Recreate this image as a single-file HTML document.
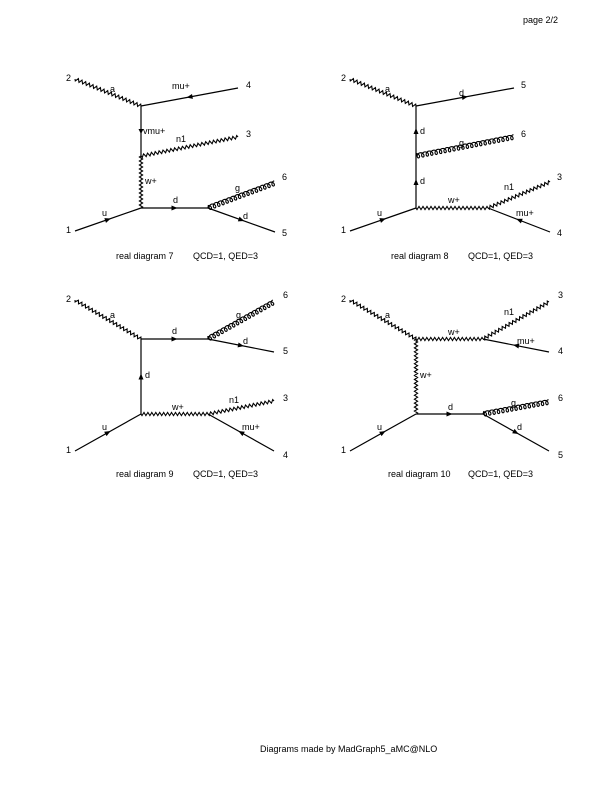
<!DOCTYPE html>
<html><head><meta charset="utf-8"><style>
html,body{margin:0;padding:0;background:#fff;}
svg{display:block;}
text{font-family:"Liberation Sans",sans-serif;font-size:9px;fill:#000;}
</style></head><body>
<svg id="s" width="612" height="792" viewBox="0 0 612 792" xmlns="http://www.w3.org/2000/svg">
<text x="523" y="23">page 2/2</text>
<text x="260" y="752">Diagrams made by MadGraph5_aMC@NLO</text>
<g id="g"></g>
</svg>
<script>
var G=document.getElementById('g'),NS='http://www.w3.org/2000/svg';
function el(n,a){var e=document.createElementNS(NS,n);for(var k in a)e.setAttribute(k,a[k]);G.appendChild(e);return e;}
function ferm(x1,y1,x2,y2){el('line',{x1:x1,y1:y1,x2:x2,y2:y2,stroke:'#000','stroke-width':1.2});
 var dx=x2-x1,dy=y2-y1,L=Math.hypot(dx,dy),ux=dx/L,uy=dy/L,mx=(x1+x2)/2,my=(y1+y2)/2;
 var tx=mx+ux*3,ty=my+uy*3,bx=mx-ux*3,by=my-uy*3;
 el('polygon',{points:tx+','+ty+' '+(bx-uy*2.5)+','+(by+ux*2.5)+' '+(bx+uy*2.5)+','+(by-ux*2.5),fill:'#000'});}
function phot(x1,y1,x2,y2){var dx=x2-x1,dy=y2-y1,L=Math.hypot(dx,dy),ux=dx/L,uy=dy/L,n=Math.round(L/4),d='M'+x1+','+y1;
 for(var i=1;i<=n*4;i++){var t=i/(n*4),a=1.6*Math.sin(t*n*2*Math.PI);d+=' L'+(x1+dx*t-uy*a).toFixed(1)+','+(y1+dy*t+ux*a).toFixed(1);}
 el('path',{d:d,fill:'none',stroke:'#000','stroke-width':1.1});}
function glu(x1,y1,x2,y2){var dx=x2-x1,dy=y2-y1,L=Math.hypot(dx,dy),ux=dx/L,uy=dy/L,n=Math.round(L/4.5),d='M'+x1+','+y1;
 for(var i=1;i<=n*16;i++){var t=i/(n*16),ph=t*n*2*Math.PI,s=L*t-1.8*Math.sin(ph)+0,a=2.6*(1-Math.cos(ph))/2*1.4-1.8;
 a=-2.4*Math.cos(ph)+0;var along=L*t+2.2*Math.sin(ph);d+=' L'+(x1+ux*along-uy*a).toFixed(1)+','+(y1+uy*along+ux*a).toFixed(1);}
 el('path',{d:d,fill:'none',stroke:'#000','stroke-width':1.1});}
function T(x,y,s){var e=el('text',{x:x,y:y});e.textContent=s;}
// Diagram 7
phot(75,79,141,106);ferm(238,88,141,106);el('line',{x1:141,y1:106,x2:141,y2:156,stroke:'#000','stroke-width':1.2});
el('polygon',{points:'141,134 138.5,129 143.5,129',fill:'#000'});
phot(141,156,238,137);phot(141,156,141,208);ferm(75,231,141,208);ferm(141,208,208,208);glu(208,208,275,183);ferm(208,208,275,232);
T(66,81,'2');T(246,88,'4');T(246,137,'3');T(282,180,'6');T(282,236,'5');T(66,233,'1');
T(110,92,'a');T(172,89,'mu+');T(143,134,'vmu+');T(176,142,'n1');T(145,184,'w+');T(173,203,'d');T(235,191,'g');T(243,219,'d');T(102,216,'u');
T(116,259,'real diagram 7');T(193,259,'QCD=1, QED=3');
// Diagram 8
phot(350,79,416,106);ferm(416,106,514,88);ferm(416,156,416,106);glu(416,156,514,137);ferm(416,208,416,156);
ferm(350,231,416,208);phot(416,208,488,208);phot(488,208,550,182);ferm(550,232,488,208);
T(341,81,'2');T(521,88,'5');T(521,137,'6');T(557,180,'3');T(557,236,'4');T(341,233,'1');
T(385,92,'a');T(459,96,'d');T(420,134,'d');T(459,146,'g');T(420,184,'d');T(448,203,'w+');T(504,190,'n1');T(516,216,'mu+');T(377,216,'u');
T(391,259,'real diagram 8');T(468,259,'QCD=1, QED=3');
// Diagram 9
phot(75,300,141,339);ferm(141,339,208,339);glu(208,339,274,302);ferm(208,339,274,352);ferm(141,414,141,339);
ferm(75,451,141,414);phot(141,414,208,414);phot(208,414,274,401);ferm(274,451,208,414);
T(66,302,'2');T(283,298,'6');T(283,354,'5');T(283,401,'3');T(283,458,'4');T(66,453,'1');
T(110,318,'a');T(172,334,'d');T(145,378,'d');T(236,318,'g');T(243,344,'d');T(172,410,'w+');T(229,403,'n1');T(242,430,'mu+');T(102,430,'u');
T(116,477,'real diagram 9');T(193,477,'QCD=1, QED=3');
// Diagram 10
phot(350,300,416,339);phot(416,339,483,339);phot(483,339,549,302);ferm(549,352,483,339);phot(416,339,416,414);
ferm(350,451,416,414);ferm(416,414,483,414);glu(483,414,549,402);ferm(483,414,549,451);
T(341,302,'2');T(558,298,'3');T(558,354,'4');T(558,401,'6');T(558,458,'5');T(341,453,'1');
T(385,318,'a');T(448,335,'w+');T(420,378,'w+');T(504,315,'n1');T(517,344,'mu+');T(448,410,'d');T(511,406,'g');T(517,430,'d');T(377,430,'u');
T(388,477,'real diagram 10');T(468,477,'QCD=1, QED=3');
</script>
</body></html>
